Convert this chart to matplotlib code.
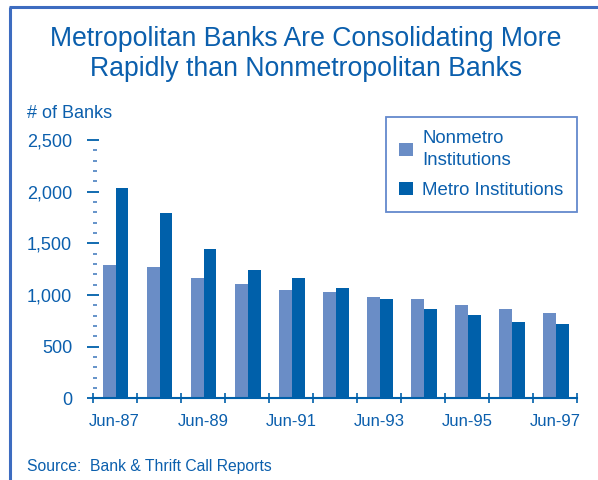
import matplotlib
matplotlib.use("Agg")
import matplotlib.pyplot as plt
import numpy as np
from matplotlib.lines import Line2D
from matplotlib.ticker import MultipleLocator, FixedLocator

categories = ["Jun-87", "Jun-88", "Jun-89", "Jun-90", "Jun-91", "Jun-92",
              "Jun-93", "Jun-94", "Jun-95", "Jun-96", "Jun-97"]
nonmetro = [1292, 1272, 1166, 1108, 1050, 1030, 982, 962, 904, 865, 827]
metro = [2038, 1796, 1447, 1243, 1166, 1069, 962, 865, 807, 740, 720]
yticks = [0, 500, 1000, 1500, 2000, 2500]
ytick_labels = ["0", "500", "1,000", "1,500", "2,000", "2,500"]

TXT = "#0b5fad"
C_NON = "#6a8dc6"
C_MET = "#0060aa"
FRAME = "#3d6cc0"

plt.rcParams['font.family'] = ['Liberation Sans', 'DejaVu Sans']

fig = plt.figure(figsize=(5.98, 4.80), dpi=100)
ax = fig.add_axes([0.155, 0.1702, 0.8104, 0.538])

x = np.arange(len(categories))
w = 0.29
ax.bar(x - 0.125, nonmetro, w, color=C_NON, label="Nonmetro\nInstitutions", zorder=2)
ax.bar(x + 0.165, metro, w, color=C_MET, label="Metro Institutions", zorder=2)

ax.set_xlim(-0.5, len(categories) - 0.5)
ax.set_ylim(0, 2500)

for s in ["top", "right", "left"]:
    ax.spines[s].set_visible(False)
ax.spines["bottom"].set_color(C_MET)
ax.spines["bottom"].set_linewidth(1.5)

ax.set_yticks(yticks)
ax.set_yticklabels(ytick_labels)
ax.yaxis.set_minor_locator(MultipleLocator(100))
ax.tick_params(axis="y", which="major", direction="inout", length=8.6, width=1.3,
               color=C_MET, labelcolor=TXT, labelsize=13, pad=10.5)
ax.tick_params(axis="y", which="minor", direction="in", length=3, width=1.2,
               color="#4a80c0")

ax.xaxis.set_major_locator(FixedLocator(x[::2]))
ax.set_xticklabels(categories[::2])
ax.xaxis.set_minor_locator(FixedLocator(np.arange(-0.5, len(categories), 1.0)))
ax.tick_params(axis="x", which="major", length=0, labelcolor=TXT, labelsize=12, pad=11)
ax.tick_params(axis="x", which="minor", direction="inout", length=7, width=1.2, color=C_MET)

leg = ax.legend(loc="upper left", bbox_to_anchor=((386 - 92.7) / 484.6, (398.3 - 117) / 258.3),
                frameon=True, fancybox=False, edgecolor=FRAME, fontsize=13.4, labelcolor=TXT,
                handlelength=0.75, handleheight=0.65, handletextpad=0.5,
                borderpad=0.7, labelspacing=0.7, borderaxespad=0)
leg.get_frame().set_linewidth(1.3)
for t in leg.get_texts():
    t.set_linespacing(1.38)

fig.text(0.5117, 1 - 54 / 480, "Metropolitan Banks Are Consolidating More\nRapidly than Nonmetropolitan Banks",
         ha="center", va="center", color=TXT, fontsize=19.2, linespacing=1.2)
fig.text(27 / 598, 1 - 114 / 480, "# of Banks", ha="left", va="center", color=TXT, fontsize=13)
fig.text(27 / 598, 1 - 466 / 480, "Source:  Bank & Thrift Call Reports", ha="left", va="center",
         color=TXT, fontsize=11.3)

fig.add_artist(Line2D([10 / 598, 10 / 598], [0, 1 - 7 / 480], transform=fig.transFigure,
                      color=FRAME, linewidth=2.2, solid_capstyle="butt"))
fig.add_artist(Line2D([9 / 598, 1], [1 - 7 / 480, 1 - 7 / 480], transform=fig.transFigure,
                      color=FRAME, linewidth=2.2, solid_capstyle="butt"))

fig.savefig("out.png", dpi=100)
